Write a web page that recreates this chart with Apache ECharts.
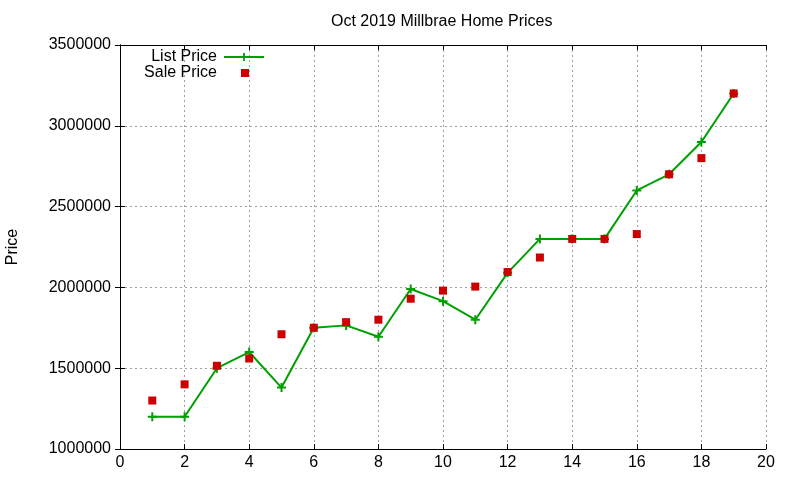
<!DOCTYPE html>
<html>
<head>
<meta charset="utf-8">
<script src="https://cdn.jsdelivr.net/npm/echarts@6/dist/echarts.min.js"></script>
<style>html,body{margin:0;padding:0;background:#fff}#c{width:800px;height:480px}</style>
</head>
<body>
<div id="c"></div>
<script>
const titleText = 'Oct 2019 Millbrae Home Prices';
const xValues = [1,2,3,4,5,6,7,8,9,10,11,12,13,14,15,16,17,18,19];
const listPrice = [1200000,1200000,1500000,1600000,1380000,1750000,1765000,1695000,1990000,1915000,1800000,2090000,2300000,2300000,2300000,2600000,2700000,2900000,3200000];
const salePrice = [1300000,1400000,1515000,1560000,1710000,1750000,1785000,1800000,1930000,1980000,2005000,2095000,2185000,2300000,2300000,2330000,2700000,2800000,3200000];
const seriesNames = ['List Price', 'Sale Price'];
const yAxisName = 'Price';

const font = 'Liberation Sans, Arial, sans-serif';
const plus = 'path://M3.5,0h2v3.5h3.5v2h-3.5v3.5h-2v-3.5h-3.5v-2h3.5z';
const gridLine = {show: true, lineStyle: {color: '#a0a0a0', type: [2, 3], width: 1}};
const axisLine = {show: true, lineStyle: {color: '#000', width: 1}};
const tick = {show: true, inside: true, length: 5, lineStyle: {color: '#000'}};

const chart = echarts.init(document.getElementById('c'), null, {renderer: 'canvas'});
chart.setOption({
  animation: false,
  backgroundColor: '#fff',
  textStyle: {fontFamily: font},
  title: {
    text: titleText, left: 326, top: 9,
    textStyle: {fontFamily: font, fontSize: 16, fontWeight: 'normal', color: '#000'}
  },
  grid: {left: 120, right: 34, top: 45, bottom: 31, containLabel: false, outerBoundsMode: 'none'},
  legend: [
    {data: [seriesNames[0]], orient: 'vertical', align: 'right', right: 535, top: 49, padding: 0,
     itemWidth: 40, itemHeight: 10, textStyle: {fontFamily: font, fontSize: 16, color: '#000', padding: [0, 2, 0, 0]}},
    {data: [{name: seriesNames[1], icon: 'rect'}], orient: 'vertical', align: 'right', right: 551, top: 65, padding: 0,
     itemWidth: 8, itemHeight: 8,
     textStyle: {fontFamily: font, fontSize: 16, color: '#000', padding: [0, 19, 0, 0]}}
  ],
  xAxis: [
    {type: 'value', min: 0, max: 20, interval: 2, position: 'bottom',
     axisLine: axisLine, axisTick: tick, splitLine: gridLine,
     axisLabel: {color: '#000', fontFamily: font, fontSize: 16, margin: 6}},
    {type: 'value', min: 0, max: 20, interval: 2, position: 'top',
     axisLine: axisLine, axisTick: tick, splitLine: {show: false}, axisLabel: {show: false}}
  ],
  yAxis: [
    {type: 'value', min: 1000000, max: 3500000, interval: 500000, position: 'left',
     name: yAxisName, nameLocation: 'middle', nameGap: 99,
     nameTextStyle: {color: '#000', fontFamily: font, fontSize: 16},
     axisLine: axisLine, axisTick: tick, splitLine: gridLine,
     axisLabel: {color: '#000', fontFamily: font, fontSize: 16, margin: 9, formatter: v => String(v)}},
    {type: 'value', min: 1000000, max: 3500000, interval: 500000, position: 'right',
     axisLine: axisLine, axisTick: tick, splitLine: {show: false}, axisLabel: {show: false}}
  ],
  series: [
    {name: seriesNames[0], type: 'line', xAxisIndex: 0, yAxisIndex: 0,
     data: xValues.map((x, i) => [x, listPrice[i]]),
     symbol: plus, symbolSize: 9, showAllSymbol: true,
     lineStyle: {color: '#00a000', width: 2}, itemStyle: {color: '#00a000', opacity: 1}, z: 2},
    {name: seriesNames[1], type: 'scatter', xAxisIndex: 0, yAxisIndex: 0,
     data: xValues.map((x, i) => [x, salePrice[i]]),
     symbol: 'rect', symbolSize: 8, itemStyle: {color: '#cc0000', opacity: 1}, z: 3}
  ]
});
</script>
</body>
</html>
